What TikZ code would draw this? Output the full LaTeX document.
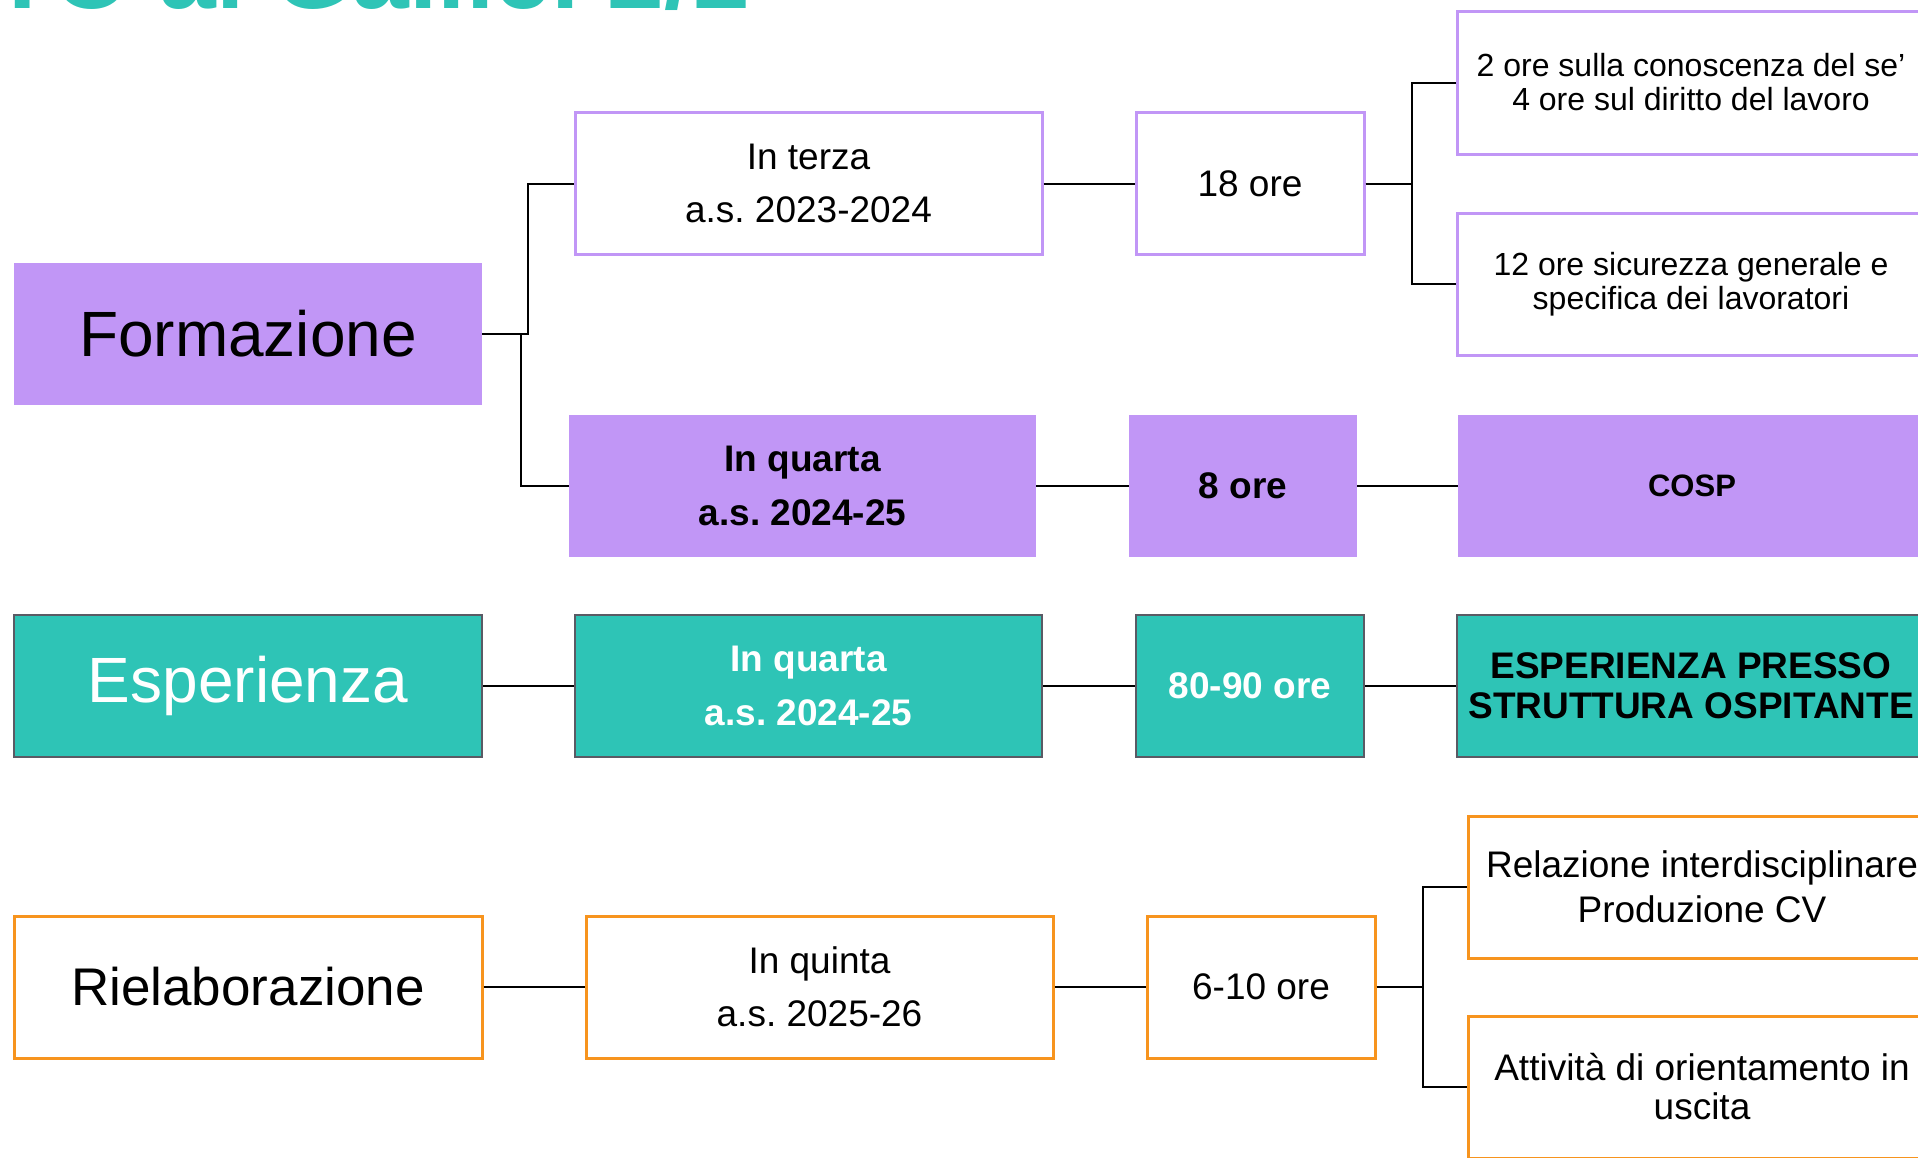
\documentclass[tikz,border=0pt]{standalone}
\usepackage{fontspec}
\setmainfont{Liberation Sans}
\frenchspacing
\definecolor{lav}{RGB}{193,150,246}
\definecolor{teal2}{RGB}{46,196,182}
\definecolor{orng}{RGB}{247,148,30}
\definecolor{gborder}{RGB}{90,90,100}
\tikzset{
  box/.style={rectangle, minimum height=142pt, inner sep=0pt, align=center, text=black},
  wide/.style={minimum width=467pt},
  narrow/.style={minimum width=228pt},
  lavline/.style={box, draw=lav, line width=3pt, fill=white},
  lavfill/.style={box, fill=lav},
  tealbox/.style={box, fill=teal2, draw=gborder, line width=2pt},
  orbox/.style={box, draw=orng, line width=3pt, fill=white},
  conn/.style={draw=black, line width=2pt},
  tmed/.style={font=\fontsize{37}{53}\selectfont},
  tmedb/.style={font=\fontsize{37}{54}\selectfont\bfseries},
  tsmall/.style={font=\fontsize{32}{34}\selectfont},
}
\begin{document}
\begin{tikzpicture}[x=1pt,y=-1pt]
\useasboundingbox (0,0) rectangle (1918,1157);
\clip (0,0) rectangle (1918,1157);
\fill[white] (0,0) rectangle (1918,1157);

% cut-off title
\node[anchor=base west, inner sep=0pt, text=teal2, font=\fontsize{102}{110}\selectfont\bfseries] (title) at (-150,8) {PCTO al Galilei 2/2};

% Formazione
\node[lavfill, wide, minimum width=468pt, font=\fontsize{64}{70}\selectfont] (form) at (248,334) {Formazione};
\node[lavline, wide, tmed] (terza) at (808.5,183.5) {In terza\\a.s. 2023-2024};
\node[lavline, narrow, tmed] (h18) at (1250,183.5) {18 ore};
\node[lavline, wide, minimum width=468pt, minimum height=143pt, font=\fontsize{32}{34}\selectfont] (boxA) at (1691,82.5) {2 ore sulla conoscenza del se’\\4 ore sul diritto del lavoro};
\node[lavline, wide, minimum width=468pt, font=\fontsize{32}{34}\selectfont] (boxB) at (1691,284) {12 ore sicurezza generale e\\specifica dei lavoratori};

\node[lavfill, wide, tmedb] (quarta1) at (802.5,485.6) {In quarta\\a.s. 2024-25};
\node[lavfill, narrow, tmedb] (h8) at (1243,485.6) {8 ore};
\node[lavfill, wide, minimum width=468pt, font=\fontsize{31}{34}\selectfont\bfseries] (cosp) at (1692,485.6) {COSP};

% Esperienza
\node[tealbox, wide, minimum width=468pt, text=white, font=\fontsize{64}{70}\selectfont] (esp) at (248,686) {Esperienza};
\node[tealbox, wide, text=white, tmedb] (quarta2) at (808.5,686) {In quarta\\a.s. 2024-25};
\node[tealbox, narrow, text=white, tmedb] (h80) at (1250,686) {80-90 ore};
\node[tealbox, wide, minimum width=468pt, font=\fontsize{37}{40}\selectfont\bfseries] (esppr) at (1691,686) {ESPERIENZA PRESSO\\STRUTTURA OSPITANTE};

% Rielaborazione
\node[orbox, wide, minimum width=468pt, font=\fontsize{53}{60}\selectfont] (riel) at (248,987) {Rielaborazione};
\node[orbox, wide, tmed] (quinta) at (819.5,987) {In quinta\\a.s. 2025-26};
\node[orbox, narrow, tmed] (h610) at (1261,987) {6-10 ore};
\node[orbox, wide, minimum width=468pt, font=\fontsize{37}{45}\selectfont] (rel) at (1702,887) {Relazione interdisciplinare\\Produzione CV};
\node[orbox, wide, minimum width=468pt, font=\fontsize{37}{39}\selectfont] (att) at (1702,1087) {Attività di orientamento in\\uscita};

% connectors
\draw[conn] (form.east) -- ++(46,0) |- (terza.west);
\draw[conn] (form.east) -- ++(39,0) |- (quarta1.west);
\draw[conn] (terza.east) -- (h18.west);
\draw[conn] (h18.east) -- ++(46,0) |- (boxA.west);
\draw[conn] (h18.east) -- ++(46,0) |- (boxB.west);
\draw[conn] (quarta1.east) -- (h8.west);
\draw[conn] (h8.east) -- (cosp.west);
\draw[conn] (esp.east) -- (quarta2.west);
\draw[conn] (quarta2.east) -- (h80.west);
\draw[conn] (h80.east) -- (esppr.west);
\draw[conn] (riel.east) -- (quinta.west);
\draw[conn] (quinta.east) -- (h610.west);
\draw[conn] (h610.east) -- ++(46,0) |- (rel.west);
\draw[conn] (h610.east) -- ++(46,0) |- (att.west);
\end{tikzpicture}
\end{document}
